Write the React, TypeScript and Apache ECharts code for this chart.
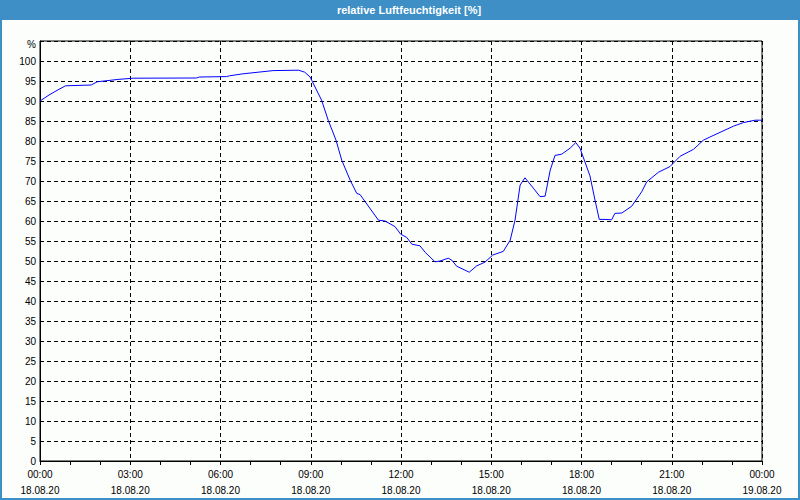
import React, { useEffect, useRef } from "react";
import * as echarts from "echarts";

const title = "relative Luftfeuchtigkeit [%]";
const hours = [
  0, 0.3, 0.6, 0.85, 1.7, 1.9, 2.6, 3.1, 5.2, 5.3, 6.2, 6.3, 6.75, 7.75, 8.6, 8.8, 8.98, 9.03,
  9.36, 9.58, 9.84, 10.03, 10.31, 10.53, 10.64, 11.25, 11.47, 11.8, 11.99, 12.19, 12.36, 12.63,
  12.8, 13.13, 13.3, 13.57, 13.69, 13.85, 14.27, 14.52, 14.79, 15.05, 15.4, 15.63, 15.79, 15.96,
  16.12, 16.4, 16.62, 16.79, 16.96, 17.12, 17.34, 17.62, 17.81, 17.95, 18.28, 18.45, 18.59,
  18.78, 19.0, 19.11, 19.34, 19.67, 20.0, 20.17, 20.56, 20.94, 21.28, 21.72, 22.05, 22.27,
  23.05, 23.38, 23.77, 24,
];
const humidity = [
  90, 91.5, 92.8, 93.8, 94.0, 94.8, 95.4, 95.7, 95.75, 96.0, 96.1, 96.3, 96.8, 97.6, 97.7, 97.2,
  96.0, 95.2, 90.2, 85.2, 80.2, 75.2, 70.2, 66.9, 66.6, 60.2, 60.0, 58.6, 56.7, 55.9, 54.2, 53.8,
  52.2, 49.8, 50.0, 50.7, 50.2, 48.7, 47.2, 48.8, 49.7, 51.5, 52.4, 55.2, 60.2, 69.0, 70.8, 68.2,
  66.1, 66.2, 72.7, 76.4, 76.7, 78.2, 79.6, 78.2, 71.3, 65.2, 60.4, 60.4, 60.3, 61.9, 62.0, 63.7,
  67.3, 69.8, 72.2, 73.6, 76.2, 77.9, 80.2, 81.0, 83.7, 84.6, 85.2, 85.2,
];
const dayStart = "18.08.20";
const dayEnd = "19.08.20";
const yUnit = "%";

export default function App() {
  const ref = useRef<HTMLDivElement>(null);
  useEffect(() => {
    if (!ref.current) return;
    const chart = echarts.init(ref.current, undefined, { renderer: "svg" });
    const font = "Liberation Sans";
    chart.setOption({
      animation: false,
      backgroundColor: "#fcfefc",
      graphic: [
        {
          type: "rect",
          shape: { x: 0, y: 0, width: 800, height: 20 },
          style: { fill: "#3d8fc6" },
          z: 0,
        },
        {
          type: "rect",
          shape: { x: 1, y: 1, width: 798, height: 498 },
          style: { fill: "none", stroke: "#3d8fc6", lineWidth: 2 },
          z: 0,
        },
        {
          type: "text",
          x: 409,
          y: 10,
          style: {
            text: title,
            fill: "#ffffff",
            font: `bold 11px "${font}"`,
            align: "center",
            verticalAlign: "middle",
          },
          z: 1,
        },
        {
          type: "text",
          x: 36,
          y: 44,
          style: {
            text: yUnit,
            fill: "#000",
            font: `10px "${font}"`,
            align: "right",
            verticalAlign: "middle",
          },
          z: 1,
        },
      ],
      grid: { left: 40, right: 38, top: 41, bottom: 39, show: true, borderColor: "#000", borderWidth: 1, backgroundColor: "transparent" },
      xAxis: {
        type: "value",
        min: 0,
        max: 24,
        interval: 3,
        axisLine: { show: true, lineStyle: { color: "#000", width: 1 } },
        axisTick: { show: true, length: 4, lineStyle: { color: "#000" } },
        minorTick: { show: true, splitNumber: 3, length: 4, lineStyle: { color: "#000" } },
        splitLine: { show: true, lineStyle: { color: "#000", type: [4, 3], width: 1 } },
        axisLabel: {
          color: "#000",
          fontFamily: font,
          fontSize: 10,
          lineHeight: 16,
          margin: 5,
          formatter: (v: number) => {
            const h = v % 24;
            const hh = String(h).padStart(2, "0");
            return `${hh}:00\n${v >= 24 ? dayEnd : dayStart}`;
          },
        },
      },
      yAxis: {
        type: "value",
        min: 0,
        max: 105,
        interval: 5,
        axisLine: { show: true, lineStyle: { color: "#000", width: 1 } },
        axisTick: { show: false },
        splitLine: { show: true, lineStyle: { color: "#000", type: [4, 3], width: 1 } },
        axisLabel: {
          color: "#000",
          fontFamily: font,
          fontSize: 10,
          margin: 4,
          formatter: (v: number) => (v >= 105 ? "" : String(v)),
        },
      },
      series: [
        {
          type: "line",
          data: hours.map((h, i) => [h, humidity[i]]),
          showSymbol: false,
          symbol: "none",
          smooth: false,
          lineStyle: { color: "#0000ff", width: 1 },
          z: 5,
        },
      ],
    });
    return () => chart.dispose();
  }, []);
  return <div ref={ref} style={{ position: "fixed", left: 0, top: 0, width: 800, height: 500 }} />;
}
